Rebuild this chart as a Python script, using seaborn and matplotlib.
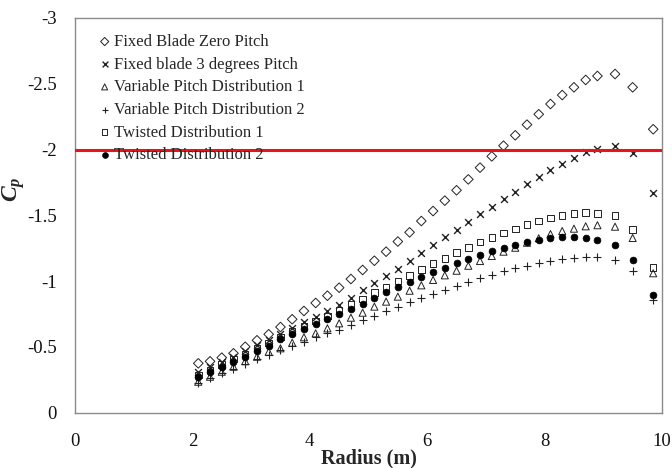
import numpy as np
import pandas as pd
import matplotlib
matplotlib.use("Agg")
import matplotlib.pyplot as plt
import seaborn as sns
from matplotlib.ticker import FuncFormatter

radius = [2.1, 2.3, 2.5, 2.7, 2.9, 3.1, 3.3, 3.5, 3.7, 3.9, 4.1, 4.3, 4.5, 4.7,
          4.9, 5.1, 5.3, 5.5, 5.7, 5.9, 6.1, 6.3, 6.5, 6.7, 6.9, 7.1, 7.3, 7.5,
          7.7, 7.9, 8.1, 8.3, 8.5, 8.7, 8.9, 9.2, 9.5, 9.85]

fixed_zero = [-0.374, -0.389, -0.417, -0.450, -0.500, -0.549, -0.595, -0.650, -0.709,
              -0.772, -0.833, -0.888, -0.949, -1.015, -1.084, -1.154, -1.223, -1.300,
              -1.370, -1.456, -1.532, -1.611, -1.690, -1.773, -1.862, -1.948, -2.029,
              -2.108, -2.189, -2.268, -2.346, -2.414, -2.473, -2.529, -2.559, -2.574,
              -2.473, -2.154]
fixed_3deg = [-0.310, -0.345, -0.385, -0.425, -0.465, -0.510, -0.555, -0.600, -0.645,
              -0.690, -0.730, -0.775, -0.817, -0.868, -0.929, -0.985, -1.036, -1.091,
              -1.152, -1.211, -1.271, -1.332, -1.390, -1.450, -1.512, -1.565, -1.620,
              -1.674, -1.735, -1.791, -1.844, -1.892, -1.933, -1.979, -2.006, -2.027,
              -1.971, -1.667]
var_pitch_1 = [-0.234, -0.272, -0.310, -0.348, -0.390, -0.424, -0.462, -0.488, -0.531,
               -0.572, -0.602, -0.640, -0.678, -0.721, -0.759, -0.805, -0.843, -0.881,
               -0.926, -0.967, -1.008, -1.043, -1.078, -1.116, -1.152, -1.190, -1.223,
               -1.253, -1.291, -1.325, -1.357, -1.380, -1.398, -1.416, -1.424, -1.413,
               -1.327, -1.059]
var_pitch_2 = [-0.222, -0.260, -0.298, -0.331, -0.369, -0.405, -0.437, -0.475, -0.506,
               -0.538, -0.572, -0.602, -0.630, -0.662, -0.703, -0.734, -0.770, -0.805,
               -0.838, -0.868, -0.901, -0.932, -0.962, -0.992, -1.020, -1.048, -1.076,
               -1.097, -1.116, -1.137, -1.154, -1.167, -1.177, -1.180, -1.180, -1.160,
               -1.076, -0.856]
twisted_1 = [-0.285, -0.325, -0.365, -0.405, -0.445, -0.490, -0.530, -0.575, -0.615,
             -0.655, -0.695, -0.735, -0.780, -0.820, -0.863, -0.911, -0.952, -1.000,
             -1.043, -1.089, -1.134, -1.172, -1.215, -1.253, -1.297, -1.332, -1.365,
             -1.395, -1.428, -1.456, -1.479, -1.499, -1.515, -1.519, -1.515, -1.497,
             -1.393, -1.101]
twisted_2 = [-0.272, -0.310, -0.348, -0.386, -0.424, -0.468, -0.506, -0.557, -0.595,
             -0.637, -0.675, -0.711, -0.748, -0.788, -0.827, -0.873, -0.914, -0.952,
             -0.992, -1.030, -1.068, -1.101, -1.137, -1.170, -1.200, -1.228, -1.253,
             -1.276, -1.294, -1.314, -1.327, -1.335, -1.335, -1.329, -1.312, -1.276,
             -1.160, -0.894]

series_labels = ["Fixed Blade Zero Pitch", "Fixed blade 3 degrees Pitch",
                 "Variable Pitch Distribution 1", "Variable Pitch Distribution 2",
                 "Twisted Distribution 1", "Twisted Distribution 2"]
series_values = [fixed_zero, fixed_3deg, var_pitch_1, var_pitch_2, twisted_1, twisted_2]
x_ticks = [0, 2, 4, 6, 8, 10]
y_ticks = [0, -0.5, -1, -1.5, -2, -2.5, -3]
ref_level = -2.0

sns.set_style("white")
plt.rcParams["font.family"] = ["Liberation Serif", "DejaVu Serif"]
plt.rcParams["axes.unicode_minus"] = False
plt.rcParams["mathtext.fontset"] = "custom"
plt.rcParams["mathtext.it"] = "Liberation Serif:italic:bold"
plt.rcParams["mathtext.rm"] = "Liberation Serif:bold"

fig = plt.figure(figsize=(6.72, 4.68), dpi=100)
ax = fig.add_axes([75 / 672, 1 - 412.5 / 468, 587 / 672, 394.5 / 468])

dark = "#222222"
styles = [
    dict(marker="D", s=24, facecolors="none", edgecolors=dark, linewidths=0.7),
    dict(marker="x", s=24, color=dark, linewidths=1.0),
    dict(marker="^", s=26, facecolors="none", edgecolors=dark, linewidths=0.7),
    dict(marker="+", s=32, color=dark, linewidths=0.8),
    dict(marker="s", s=22, facecolors="none", edgecolors=dark, linewidths=0.7),
    dict(marker="o", s=24, color="black", edgecolors="black", linewidths=0.5),
]

for label, vals, st in zip(series_labels, series_values, styles):
    df = pd.DataFrame({"Radius": radius, "Cp": vals})
    sns.scatterplot(data=df, x="Radius", y="Cp", ax=ax, label=label, **st)

ax.axhline(ref_level, color="#e8141b", linewidth=2.2, zorder=5)

ax.set_xlim(0, 10)
ax.set_ylim(0, -3)
ax.set_xticks(x_ticks)
ax.set_yticks(y_ticks)
fmt = FuncFormatter(lambda v, p: ("%g" % v).replace("\u2212", "-"))
ax.yaxis.set_major_formatter(fmt)
ax.xaxis.set_major_formatter(fmt)
ax.tick_params(axis="both", which="major", labelsize=13.5, length=4, width=0.8,
               color="#999999", direction="out", labelcolor="#111111")
ax.tick_params(axis="y", pad=9)
ax.tick_params(axis="x", pad=11)
for sp in ax.spines.values():
    sp.set_color("#8a8a8a")
    sp.set_linewidth(1.0)

ax.set_xlabel("Radius (m)", fontsize=14.5, fontweight="bold")
ax.xaxis.set_label_coords(0.5, -0.092)
ax.set_ylabel(r"$C_p$", fontsize=17)
ax.yaxis.set_label_coords(-0.082, 0.565)

leg = ax.legend(loc="upper left", bbox_to_anchor=(0.025, 0.985), frameon=False,
                fontsize=12, handlelength=0.6, handletextpad=0.25,
                labelspacing=0.4, borderaxespad=0.2, markerscale=0.85)

fig.savefig("out.png", dpi=100)
